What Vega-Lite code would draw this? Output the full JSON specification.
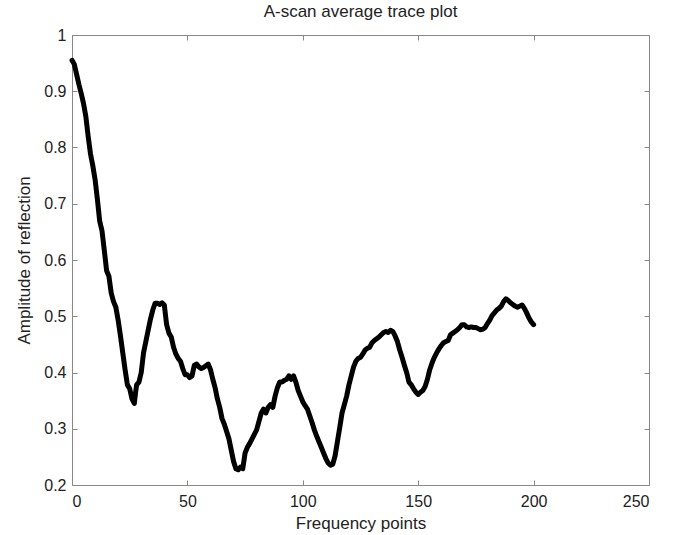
{
  "$schema": "https://vega.github.io/schema/vega-lite/v6.json",
  "autosize": "none",
  "width": 577,
  "height": 450,
  "padding": {"left": 72, "top": 35, "right": 32, "bottom": 50},
  "background": "white",
  "title": {"text": "A-scan average trace plot", "fontSize": 17, "fontWeight": "normal", "font": "Liberation Sans", "color": "#222", "offset": 6},
  "config": {
    "view": {"stroke": "#888", "strokeWidth": 1},
    "axis": {"labelFont": "Liberation Sans", "titleFont": "Liberation Sans", "labelFontSize": 16, "titleFontSize": 17, "titleFontWeight": "normal", "labelColor": "#222", "titleColor": "#222", "grid": false, "domain": false, "tickColor": "#888", "tickSize": -5}
  },
  "data": {"values": [
    {"f":0,"a":0.955},{"f":1,"a":0.948},{"f":2,"a":0.93},{"f":3,"a":0.912},{"f":4,"a":0.896},{"f":5,"a":0.878},{"f":6,"a":0.855},{"f":7,"a":0.82},{"f":8,"a":0.789},{"f":9,"a":0.768},
    {"f":10,"a":0.743},{"f":11,"a":0.708},{"f":12,"a":0.669},{"f":13,"a":0.652},{"f":14,"a":0.617},{"f":15,"a":0.581},{"f":16,"a":0.571},{"f":17,"a":0.541},{"f":18,"a":0.526},{"f":19,"a":0.516},
    {"f":20,"a":0.493},{"f":21,"a":0.465},{"f":22,"a":0.435},{"f":23,"a":0.405},{"f":24,"a":0.378},{"f":25,"a":0.371},{"f":26,"a":0.353},{"f":27,"a":0.345},{"f":27.5,"a":0.363},{"f":28,"a":0.378},{"f":29,"a":0.383},
    {"f":30,"a":0.4},{"f":31,"a":0.435},{"f":32,"a":0.455},{"f":33,"a":0.475},{"f":34,"a":0.495},{"f":35,"a":0.511},{"f":36,"a":0.523},{"f":37,"a":0.523},{"f":38,"a":0.521},{"f":39,"a":0.524},
    {"f":40,"a":0.52},{"f":41,"a":0.485},{"f":42,"a":0.47},{"f":43,"a":0.463},{"f":44,"a":0.445},{"f":45,"a":0.433},{"f":46,"a":0.425},{"f":47,"a":0.42},{"f":48,"a":0.407},{"f":49,"a":0.396},
    {"f":50,"a":0.396},{"f":51,"a":0.391},{"f":52,"a":0.394},{"f":53,"a":0.413},{"f":54,"a":0.415},{"f":55,"a":0.41},{"f":56,"a":0.407},{"f":57,"a":0.409},{"f":58,"a":0.412},{"f":59,"a":0.415},
    {"f":60,"a":0.405},{"f":61,"a":0.388},{"f":62,"a":0.373},{"f":63,"a":0.353},{"f":64,"a":0.338},{"f":65,"a":0.318},{"f":66,"a":0.308},{"f":67,"a":0.295},{"f":68,"a":0.282},{"f":69,"a":0.262},
    {"f":70,"a":0.242},{"f":71,"a":0.229},{"f":72,"a":0.227},{"f":73,"a":0.232},{"f":74,"a":0.229},{"f":75,"a":0.257},{"f":76,"a":0.267},{"f":77,"a":0.274},{"f":78,"a":0.282},{"f":79,"a":0.29},
    {"f":80,"a":0.298},{"f":81,"a":0.313},{"f":82,"a":0.328},{"f":83,"a":0.335},{"f":84,"a":0.328},{"f":85,"a":0.338},{"f":86,"a":0.343},{"f":87,"a":0.338},{"f":88,"a":0.358},{"f":89,"a":0.373},
    {"f":90,"a":0.383},{"f":91,"a":0.383},{"f":92,"a":0.386},{"f":93,"a":0.388},{"f":94,"a":0.394},{"f":95,"a":0.388},{"f":96,"a":0.394},{"f":97,"a":0.383},{"f":98,"a":0.368},{"f":99,"a":0.358},
    {"f":100,"a":0.348},{"f":101,"a":0.341},{"f":102,"a":0.335},{"f":103,"a":0.323},{"f":104,"a":0.311},{"f":105,"a":0.298},{"f":106,"a":0.287},{"f":107,"a":0.277},{"f":108,"a":0.267},{"f":109,"a":0.257},
    {"f":110,"a":0.247},{"f":111,"a":0.239},{"f":112,"a":0.235},{"f":113,"a":0.237},{"f":114,"a":0.252},{"f":115,"a":0.277},{"f":116,"a":0.302},{"f":117,"a":0.328},{"f":118,"a":0.343},{"f":119,"a":0.358},
    {"f":120,"a":0.378},{"f":121,"a":0.394},{"f":122,"a":0.41},{"f":123,"a":0.42},{"f":124,"a":0.425},{"f":125,"a":0.427},{"f":126,"a":0.433},{"f":127,"a":0.44},{"f":128,"a":0.443},{"f":129,"a":0.445},
    {"f":130,"a":0.453},{"f":131,"a":0.457},{"f":132,"a":0.46},{"f":133,"a":0.463},{"f":134,"a":0.467},{"f":135,"a":0.471},{"f":136,"a":0.473},{"f":137,"a":0.471},{"f":138,"a":0.475},{"f":139,"a":0.473},
    {"f":140,"a":0.465},{"f":141,"a":0.455},{"f":142,"a":0.44},{"f":143,"a":0.427},{"f":144,"a":0.413},{"f":145,"a":0.4},{"f":146,"a":0.383},{"f":147,"a":0.378},{"f":148,"a":0.371},{"f":149,"a":0.365},
    {"f":150,"a":0.361},{"f":151,"a":0.365},{"f":152,"a":0.368},{"f":153,"a":0.375},{"f":154,"a":0.388},{"f":155,"a":0.405},{"f":156,"a":0.417},{"f":157,"a":0.427},{"f":158,"a":0.435},{"f":159,"a":0.442},
    {"f":160,"a":0.448},{"f":161,"a":0.453},{"f":162,"a":0.455},{"f":163,"a":0.457},{"f":164,"a":0.467},{"f":165,"a":0.47},{"f":166,"a":0.473},{"f":167,"a":0.476},{"f":168,"a":0.48},{"f":169,"a":0.485},
    {"f":170,"a":0.485},{"f":171,"a":0.481},{"f":172,"a":0.48},{"f":173,"a":0.481},{"f":174,"a":0.48},{"f":175,"a":0.48},{"f":176,"a":0.478},{"f":177,"a":0.476},{"f":178,"a":0.477},{"f":179,"a":0.48},
    {"f":180,"a":0.487},{"f":181,"a":0.493},{"f":182,"a":0.501},{"f":183,"a":0.506},{"f":184,"a":0.511},{"f":185,"a":0.514},{"f":186,"a":0.518},{"f":187,"a":0.526},{"f":188,"a":0.531},{"f":189,"a":0.528},
    {"f":190,"a":0.524},{"f":191,"a":0.521},{"f":192,"a":0.518},{"f":193,"a":0.516},{"f":194,"a":0.518},{"f":195,"a":0.52},{"f":196,"a":0.514},{"f":197,"a":0.506},{"f":198,"a":0.497},{"f":199,"a":0.49},
    {"f":200,"a":0.485}
  ]},
  "layer": [
    {
      "mark": {"type": "line", "color": "black", "strokeWidth": 5, "strokeJoin": "round", "strokeCap": "round"},
      "encoding": {
        "x": {"field": "f", "type": "quantitative", "scale": {"domain": [0, 250], "nice": false, "zero": false},
              "axis": {"values": [0, 50, 100, 150, 200, 250], "title": "Frequency points", "labelPadding": 13, "titlePadding": 6, "orient": "bottom"}},
        "y": {"field": "a", "type": "quantitative", "scale": {"domain": [0.2, 1], "nice": false, "zero": false},
              "axis": {"values": [0.2, 0.3, 0.4, 0.5, 0.6, 0.7, 0.8, 0.9, 1], "format": "~g", "title": "Amplitude of reflection", "labelPadding": 11, "titlePadding": 10, "orient": "left"}}
      }
    },
    {
      "mark": {"type": "line", "opacity": 0},
      "encoding": {
        "x": {"field": "f", "type": "quantitative", "axis": {"orient": "top", "values": [0, 50, 100, 150, 200, 250], "labels": false, "title": null}},
        "y": {"field": "a", "type": "quantitative", "axis": {"orient": "right", "values": [0.2, 0.3, 0.4, 0.5, 0.6, 0.7, 0.8, 0.9, 1], "labels": false, "title": null}}
      }
    }
  ],
  "resolve": {"axis": {"x": "independent", "y": "independent"}}
}
